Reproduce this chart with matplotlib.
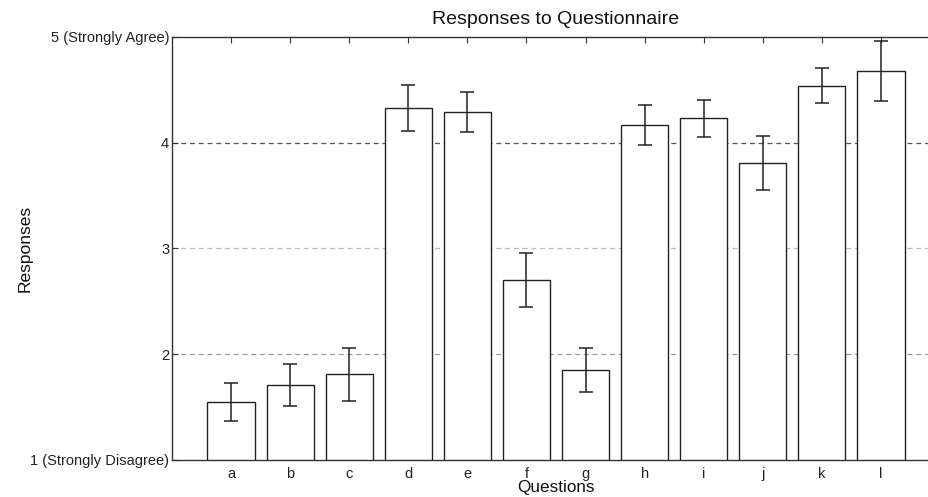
import matplotlib
matplotlib.use("Agg")
import matplotlib.pyplot as plt
import numpy as np

plt.rcParams['font.family'] = ['Liberation Sans', 'DejaVu Sans']

questions = ['a', 'b', 'c', 'd', 'e', 'f', 'g', 'h', 'i', 'j', 'k', 'l']
means = [1.55, 1.71, 1.81, 4.33, 4.29, 2.70, 1.85, 4.17, 4.23, 3.81, 4.54, 4.68]
errors = [0.18, 0.20, 0.25, 0.215, 0.19, 0.255, 0.21, 0.19, 0.175, 0.255, 0.165, 0.285]
ytick_vals = [1, 2, 3, 4, 5]
ytick_labels = ['1 (Strongly Disagree)', '2', '3', '4', '5 (Strongly Agree)']

W, H = 929, 497
fig = plt.figure(figsize=(W / 100, H / 100), dpi=100)
left_px, right_px, top_px, bot_px = 172, 940, 37, 460
ax = fig.add_axes([left_px / W, 1 - bot_px / H, (right_px - left_px) / W, (bot_px - top_px) / H])

x = np.arange(1, len(questions) + 1)
ax.bar(x, [m - 1 for m in means], bottom=1, width=0.8, color='white',
       edgecolor='#222222', linewidth=1.0, zorder=3)
ax.errorbar(x, means, yerr=errors, fmt='none', ecolor='#222222',
            elinewidth=1.1, capsize=5, capthick=1.1, zorder=4)

# dashed grid lines
for yv, col in [(2, '#999999'), (3, '#bbbbbb'), (4, '#555555')]:
    ax.axhline(yv, color=col, linestyle=(0, (4, 3)), linewidth=0.9, zorder=1)

ax.set_xlim(0, 13)
ax.set_ylim(1, 5)
ax.set_xticks(x)
ax.set_xticklabels(questions, fontsize=10.5)
ax.set_yticks(ytick_vals)
ax.set_yticklabels(ytick_labels, fontsize=10.5)
ax.tick_params(axis='both', direction='in', length=4, width=0.8, color='#333333',
               top=True, right=False, labelcolor='#222222')
ax.tick_params(axis='x', pad=5)
ax.tick_params(axis='y', pad=2)

for s in ['top', 'bottom', 'left']:
    ax.spines[s].set_color('#333333')
    ax.spines[s].set_linewidth(1.0)
ax.spines['right'].set_visible(False)

ax.set_title('Responses to Questionnaire', fontsize=14, pad=9, color='#111111')
ax.set_xlabel('Questions', fontsize=12.3, labelpad=-1, color='#111111')
ax.set_ylabel('Responses', fontsize=12.5, color='#111111')
ax.yaxis.set_label_coords(33 / W, 1 - 248 / H, transform=fig.transFigure)

fig.savefig('out.png', dpi=100)
